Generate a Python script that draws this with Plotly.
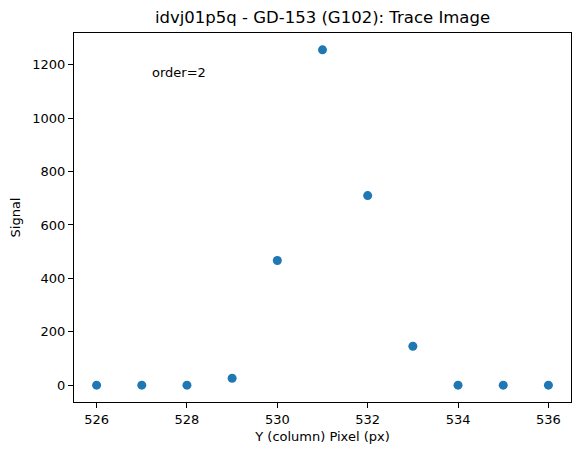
import plotly.graph_objects as go

# trace profile across the spectrum (column pixel vs signal)
pixels = [526, 527, 528, 529, 530, 531, 532, 533, 534, 535, 536]
signal = [0, 0, 0, 26, 467, 1256, 710, 146, 0, 0, 0]

fig = go.Figure()

fig.add_trace(
    go.Scatter(
        x=pixels,
        y=signal,
        mode="markers",
        marker=dict(size=9, color="#1f77b4"),
        showlegend=False,
    )
)

fig.add_annotation(
    text="order=2",
    xref="paper",
    yref="paper",
    x=0.153,
    y=0.894,
    xanchor="left",
    yanchor="middle",
    showarrow=False,
    font=dict(size=13, color="black"),
)

axis_style = dict(
    showline=True,
    linecolor="black",
    linewidth=1,
    mirror=True,
    ticks="outside",
    ticklen=5,
    tickcolor="black",
    showgrid=False,
    zeroline=False,
    automargin=False,
    tickfont=dict(size=13, color="black"),
)

fig.update_xaxes(
    range=[525.5, 536.5],
    tickvals=[526, 528, 530, 532, 534, 536],
    title=dict(text="Y (column) Pixel (px)", font=dict(size=13, color="black"), standoff=6),
    **axis_style,
)
fig.update_yaxes(
    range=[-63, 1319],
    tickvals=[0, 200, 400, 600, 800, 1000, 1200],
    title=dict(text="Signal", font=dict(size=13, color="black"), standoff=8),
    **axis_style,
)

# page body adds ~8px offset, so the figure is sized to fit inside it
fig.update_layout(
    title=dict(
        text="idvj01p5q - GD-153 (G102): Trace Image",
        xref="paper",
        x=0.5,
        xanchor="center",
        y=0.98,
        yanchor="middle",
        font=dict(size=16.5, color="black"),
    ),
    width=572,
    height=447,
    margin=dict(l=66, r=9, t=25, b=53),
    plot_bgcolor="white",
    paper_bgcolor="white",
    font=dict(family="DejaVu Sans", color="black"),
)

fig.write_html("out.html")
